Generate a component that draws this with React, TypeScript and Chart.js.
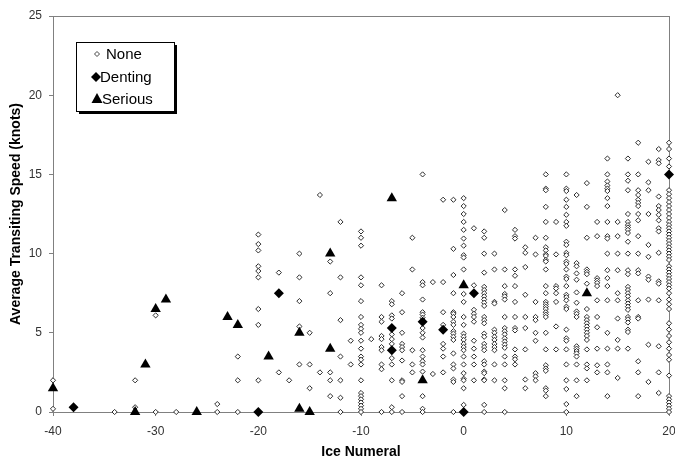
import React, { useEffect, useRef } from 'react';
import { Chart, registerables } from 'chart.js';

Chart.register(...registerables);

// ---- Axis settings ----
const X_MIN = -40;
const X_MAX = 20;
const X_STEP = 10;
const Y_MIN = 0;
const Y_MAX = 25;
const Y_STEP = 5;
const X_TITLE = 'Ice Numeral';
const Y_TITLE = 'Average Transiting Speed (knots)';
const LEGEND_LABELS = ['None', 'Denting', 'Serious'];

// ---- Damage: Serious (triangles) ----
const seriousX = [-40, -32, -31, -30, -29, -26, -23, -22, -19, -16, -16, -15, -13, -13, -7, -4, 0, 12];
const seriousY = [1.5, 0, 3, 6.5, 7.1, 0, 6, 5.5, 3.5, 5, 0.2, 0, 10, 4, 13.5, 2, 8, 7.5];

// ---- Damage: Denting (filled diamonds) ----
const dentingX = [-38, -20, -18, -7, -7, -4, -2, 0, 1, 20];
const dentingY = [0.3, 0, 7.5, 5.3, 3.9, 5.7, 5.2, 0, 7.5, 15];

// ---- Damage: None (hollow diamonds), one list of speeds per ice numeral ----
const noneM40 = [2, 0.2];
const noneM34 = [0];
const noneM32 = [2, 0.3];
const noneM30 = [6.1, 0];
const noneM28 = [0];
const noneM24 = [0.5, 0];
const noneM22 = [3.5, 2, 0];
const noneM20 = [11.2, 10.6, 10.2, 9.2, 8.9, 8.5, 6.5, 5.5, 2];
const noneM18 = [8.8, 2.5];
const noneM17 = [2];
const noneM16 = [10, 8.5, 7, 5.4, 3];
const noneM15 = [5, 3, 1.5];
const noneM14 = [13.7, 2.5];
const noneM13 = [9.5, 7.5, 2.5, 2, 1];
const noneM12 = [12, 8.5, 5.8, 3.5, 2, 0.9, 0];
const noneM11 = [4.5, 3];
const noneM10 = [11.4, 11, 10.5, 8.5, 8, 7, 6, 5.5, 5.25, 5, 4.5, 4, 3.5, 3.3, 3, 2, 1.2, 1, 0.8, 0.6, 0.4, 0.2, 0];
const noneM9 = [4.6];
const noneM8 = [8, 6, 5.7, 4.8, 4.6, 4.1, 3.9, 3, 2.7, 0];
const noneM7 = [7, 6.8, 6.1, 5.9, 4.9, 4.6, 4.3, 3.4, 3, 2, 0.3, 0];
const noneM6 = [7.5, 6.3, 5, 4.3, 4.1, 3.9, 3.25, 2, 1.9, 1, 0];
const noneM5 = [11, 9, 3.9, 3, 2.5];
const noneM4 = [15, 8.2, 8, 7.1, 6.3, 6.15, 5.95, 5.3, 5, 4.7, 3.9, 3.5, 3.2, 3, 2.55, 1, 0.2, 0];
const noneM3 = [8.2, 2.4];
const noneM2 = [13.4, 8.2, 6.3, 5.5, 4.3, 4, 3.5, 2.5];
const noneM1 = [13.4, 10.3, 8.65, 7.5, 6.3, 6.2, 6, 5.7, 5.5, 5.1, 4.95, 4.75, 4.55, 3.7, 3, 2.75, 2.05, 1.9, 0];
const none0 = [13.5, 13, 12.5, 12, 11.5, 10.95, 10.5, 9.9, 9.75, 9, 7.45, 6.95, 6, 5.5, 4.95, 4.75, 4.55, 4.3, 4.1, 3.9, 3.5, 3, 2.45, 2.1, 2, 1.5, 0.45];
const none1 = [11.6, 8, 6.45, 6.2, 6, 5.7, 4.5, 4, 3.5, 3, 2];
const none2 = [11.4, 11, 10, 8.8, 7.9, 7.7, 7.5, 7.3, 7.1, 6.9, 6.7, 6, 5.8, 5.6, 4.95, 4.75, 4.3, 4.1, 3.9, 3.2, 3, 2.55, 2.45, 2.05, 2, 0.45, 0];
const none3 = [10, 9, 6.95, 6.85, 5.2, 5, 4.75, 4.55, 4.3, 4.1, 3.9, 3, 2];
const none4 = [12.75, 9, 7.95, 7.45, 7.3, 7.1, 6, 5.3, 5.1, 4.9, 4.65, 4.45, 4.25, 4.05, 3.5, 3, 2, 1.5, 0];
const none5 = [11.5, 11.1, 10.95, 9, 8.6, 7.95, 6.95, 6, 5.3, 5.15, 3.95, 3.5, 3.33, 3];
const none6 = [10.4, 10.05, 9.15, 7.4, 6, 5.3, 3.95, 2.05, 1.5];
const none7 = [11, 9.95, 6.95, 6, 5.8, 5, 4.5, 2.45, 2.25, 2];
const none8 = [15, 14.1, 14, 12.95, 12, 11, 10.4, 10.2, 9.95, 9.85, 9.6, 9.5, 9, 7.95, 7.5, 6.95, 6.8, 6.65, 6.5, 6.3, 6.15, 6, 5, 3.95, 2.95, 2.75, 2.6, 1.5, 1.35, 1];
const none9 = [12, 9.95, 7.95, 7.8, 7.5, 6.95, 5.4, 3.95];
const none10 = [15, 14.1, 13.95, 13.4, 12.95, 12.45, 12, 11.75, 10.75, 10.55, 10.05, 9.9, 9.5, 9.35, 9, 8.55, 8.4, 7.95, 7.4, 7.25, 7.05, 6.65, 6.5, 5.2, 4.65, 4.5, 3.95, 3, 2, 1.45, 0.5, 0];
const none11 = [13.7, 9.4, 9.2, 8.75, 8.35, 7.55, 6.9, 6.35, 6.2, 6, 4.15, 4, 3.85, 3.7, 3.5, 3, 2, 1];
const none12 = [14.45, 12.95, 11, 9, 8.85, 8.7, 8.1, 6.5, 6, 5.8, 5.6, 5.4, 5.2, 5, 4.8, 4.55, 3.95, 3, 2.75, 2];
const none13 = [12, 11.1, 8.45, 8.3, 8.15, 7.95, 7.05, 6, 5.35, 4, 2.95, 2.5];
const none14 = [16, 15, 14.55, 14.3, 14.1, 13.95, 13.5, 13, 12, 11.1, 10.95, 10, 8.95, 8.45, 7.95, 7.05, 5, 4, 3, 2.5, 1];
const none15 = [20, 12, 11.1, 10, 8.95, 7.5, 7.05, 5.9, 4.55, 4, 2.15];
const none16 = [16, 15, 14.6, 14, 12.5, 12, 11.8, 11.65, 11.5, 11.3, 10.75, 10, 8.95, 8.7, 7.9, 7.7, 7.5, 7.3, 7.05, 6.85, 6.65, 6.45, 6, 5.85, 5.65, 5.2, 5.05, 4];
const none17 = [17, 15, 14, 13.7, 13.4, 13.2, 13, 12.5, 12.1, 11.1, 10, 8.95, 8.75, 7.05, 6, 5.9, 3.2, 2.5, 1];
const none18 = [15.8, 14.5, 14, 12.5, 10.55, 9.8, 8.55, 8.35, 7.1, 4.25, 1.9];
const none19 = [16.6, 15.9, 15.7, 13.6, 13, 12.75, 12.45, 12.1, 11.6, 11.4, 10.05, 8.25, 8.1, 7.05, 4.15, 2.5, 1.2];
const none20 = [17, 16.6, 16, 15.5, 14, 13.75, 13.5, 13.25, 13, 12.75, 12.5, 12.25, 12, 11.8, 11.6, 11.4, 11.2, 11, 10.8, 10.6, 10.4, 10.2, 10, 9.8, 9.6, 9.2, 9, 8.8, 8.6, 8.4, 8.2, 8, 7.8, 7.5, 7.1, 6.8, 6.5, 5.6, 5.2, 4.8, 4.4, 4, 3.6, 3.3, 2.3, 1, 0.8, 0.6, 0.4, 0.2, 0];

const noneColumns: [number, number[]][] = [
  [-40, noneM40], [-34, noneM34], [-32, noneM32], [-30, noneM30], [-28, noneM28],
  [-24, noneM24], [-22, noneM22], [-20, noneM20], [-18, noneM18], [-17, noneM17],
  [-16, noneM16], [-15, noneM15], [-14, noneM14], [-13, noneM13], [-12, noneM12],
  [-11, noneM11], [-10, noneM10], [-9, noneM9], [-8, noneM8], [-7, noneM7],
  [-6, noneM6], [-5, noneM5], [-4, noneM4], [-3, noneM3], [-2, noneM2], [-1, noneM1],
  [0, none0], [1, none1], [2, none2], [3, none3], [4, none4], [5, none5], [6, none6],
  [7, none7], [8, none8], [9, none9], [10, none10], [11, none11], [12, none12],
  [13, none13], [14, none14], [15, none15], [16, none16], [17, none17], [18, none18],
  [19, none19], [20, none20],
];

const FONT = "'Liberation Sans', Arial, sans-serif";

const framePlugin = {
  id: 'frameAndLegend',
  beforeDatasetsDraw(chart: any) {
    const { ctx, chartArea: a } = chart;
    ctx.save();
    ctx.strokeStyle = '#808080';
    ctx.lineWidth = 1;
    ctx.strokeRect(Math.round(a.left) + 0.5, Math.round(a.top) + 0.5, Math.round(a.right - a.left), Math.round(a.bottom - a.top));
    ctx.restore();
  },
  afterDraw(chart: any) {
    const { ctx, chartArea: a } = chart;
    const bx = Math.round(a.left) + 23;
    const by = Math.round(a.top) + 26;
    const bw = 98;
    const bh = 69;
    ctx.save();
    // shadow
    ctx.fillStyle = '#000';
    ctx.fillRect(bx + 3, by + 3, bw, bh);
    ctx.fillStyle = '#fff';
    ctx.fillRect(bx, by, bw, bh);
    ctx.strokeStyle = '#000';
    ctx.lineWidth = 1;
    ctx.strokeRect(bx + 0.5, by + 0.5, bw, bh);
    ctx.font = `15px ${FONT}`;
    ctx.textBaseline = 'middle';
    ctx.textAlign = 'left';
    const mx = bx + 21;
    const tx = bx + 27;
    const rows = [by + 12, by + 35, by + 57];
    // None marker
    ctx.beginPath();
    ctx.moveTo(mx, rows[0] - 2.5);
    ctx.lineTo(mx + 2.5, rows[0]);
    ctx.lineTo(mx, rows[0] + 2.5);
    ctx.lineTo(mx - 2.5, rows[0]);
    ctx.closePath();
    ctx.fillStyle = '#fff';
    ctx.fill();
    ctx.strokeStyle = '#444';
    ctx.stroke();
    // Denting marker
    ctx.beginPath();
    ctx.moveTo(mx - 1, rows[1] - 5);
    ctx.lineTo(mx + 4, rows[1]);
    ctx.lineTo(mx - 1, rows[1] + 5);
    ctx.lineTo(mx - 6, rows[1]);
    ctx.closePath();
    ctx.fillStyle = '#000';
    ctx.fill();
    // Serious marker
    ctx.beginPath();
    ctx.moveTo(mx, rows[2] - 6);
    ctx.lineTo(mx + 5.5, rows[2] + 4);
    ctx.lineTo(mx - 5.5, rows[2] + 4);
    ctx.closePath();
    ctx.fill();
    ctx.fillStyle = '#000';
    ctx.fillText(LEGEND_LABELS[0], tx + 3, rows[0] + 1);
    ctx.fillText(LEGEND_LABELS[1], tx - 3, rows[1] + 1);
    ctx.fillText(LEGEND_LABELS[2], tx - 1, rows[2] + 1);
    ctx.restore();
  },
};

export default function App() {
  const canvasRef = useRef<HTMLCanvasElement | null>(null);

  useEffect(() => {
    document.body.style.margin = '0';
    const canvas = canvasRef.current;
    if (!canvas) return;

    const noneData: { x: number; y: number }[] = [];
    noneColumns.forEach(([x, ys]) => ys.forEach((y) => noneData.push({ x, y })));
    const dentingData = dentingX.map((x, i) => ({ x, y: dentingY[i] }));
    const seriousData = seriousX.map((x, i) => ({ x, y: seriousY[i] }));

    const chart = new Chart(canvas, {
      type: 'scatter',
      data: {
        datasets: [
          {
            label: LEGEND_LABELS[0],
            data: noneData,
            pointStyle: 'rectRot',
            pointRadius: 2.6,
            borderWidth: 1,
            borderColor: '#2e2e2e',
            backgroundColor: '#ffffff',
            order: 3,
            clip: false,
          },
          {
            label: LEGEND_LABELS[1],
            data: dentingData,
            pointStyle: 'rectRot',
            pointRadius: 5,
            borderWidth: 0,
            borderColor: '#000',
            backgroundColor: '#000',
            order: 2,
            clip: false,
          },
          {
            label: LEGEND_LABELS[2],
            data: seriousData,
            pointStyle: 'triangle',
            pointRadius: 6,
            borderWidth: 0,
            borderColor: '#000',
            backgroundColor: '#000',
            order: 1,
            clip: false,
          },
        ],
      },
      options: {
        animation: false,
        responsive: false,
        maintainAspectRatio: false,
        layout: { padding: { top: 16, right: 6, left: 0, bottom: 0 } },
        plugins: {
          legend: { display: false },
          tooltip: { enabled: false },
        },
        scales: {
          x: {
            type: 'linear',
            min: X_MIN,
            max: X_MAX,
            ticks: {
              stepSize: X_STEP,
              color: '#333',
              font: { family: FONT, size: 12 },
              padding: 8,
              maxRotation: 0,
            },
            grid: { display: true, drawOnChartArea: false, drawTicks: true, tickLength: 4, color: '#808080' },
            border: { display: false },
            title: {
              display: true,
              text: X_TITLE,
              color: '#000',
              font: { family: FONT, size: 14, weight: 'bold', lineHeight: 1 },
              padding: { top: 0, bottom: 0 },
            },
            afterFit: (s: any) => {
              s.height = 47;
              s.paddingRight = 0;
              s.paddingLeft = 0;
            },
          },
          y: {
            type: 'linear',
            min: Y_MIN,
            max: Y_MAX,
            ticks: {
              stepSize: Y_STEP,
              color: '#333',
              font: { family: FONT, size: 12 },
              padding: 7,
            },
            grid: { display: true, drawOnChartArea: false, drawTicks: true, tickLength: 4, color: '#808080' },
            border: { display: false },
            title: {
              display: true,
              text: Y_TITLE,
              color: '#000',
              font: { family: FONT, size: 14, weight: 'bold' },
              padding: { top: 8, bottom: 0 },
            },
            afterFit: (s: any) => {
              s.width = 53;
              s.paddingTop = 0;
              s.paddingBottom = 0;
            },
          },
        },
      },
      plugins: [framePlugin],
    });

    return () => chart.destroy();
  }, []);

  return (
    <div style={{ width: 675, height: 459, background: '#fff' }}>
      <canvas ref={canvasRef} width={675} height={459} style={{ width: 675, height: 459, display: 'block' }} />
    </div>
  );
}
